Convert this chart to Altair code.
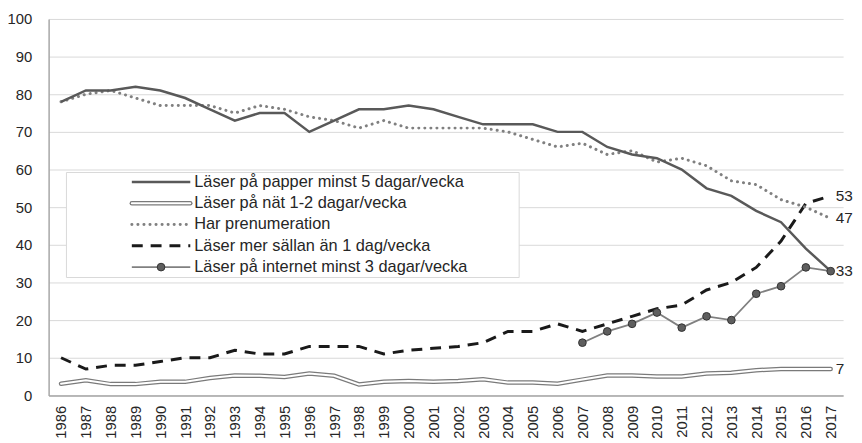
import altair as alt
import pandas as pd

years = list(range(1986, 2018))

papper = [78, 81, 81, 82, 81, 79, 76, 73, 75, 75, 70, 73, 76, 76, 77, 76,
          74, 72, 72, 72, 70, 70, 66, 64, 63, 60, 55, 53, 49, 46, 39, 33]
nat = [3.1, 4.0, 3.0, 3.0, 3.6, 3.6, 4.6, 5.3, 5.2, 4.9, 5.8, 5.2, 2.9, 3.6, 3.8, 3.6,
       3.8, 4.3, 3.4, 3.4, 3.1, 4.2, 5.3, 5.3, 5.0, 5.0, 5.8, 6.0, 6.7, 7.0, 7.0, 7.0]
prenumeration = [78, 80, 81, 79, 77, 77, 77, 75, 77, 76, 74, 73, 71, 73, 71, 71,
                 71, 71, 70, 68, 66, 67, 64, 65, 62, 63, 61, 57, 56, 52, 50, 47]
sallan = [10, 7, 8, 8, 9, 10, 10, 12, 11, 11, 13, 13, 13, 11, 12, 12.5,
          13, 14, 17, 17, 19, 17, 19, 21, 23, 24, 28, 30, 34, 41, 51, 53]
internet_years = list(range(2007, 2018))
internet = [14, 17, 19, 22, 18, 21, 20, 27, 29, 34, 33]

series_names = [
    "Läser på papper minst 5 dagar/vecka",
    "Läser på nät 1-2 dagar/vecka",
    "Har prenumeration",
    "Läser mer sällan än 1 dag/vecka",
    "Läser på internet minst 3 dagar/vecka",
]
end_labels = ["33", "7", "47", "53"]

FONT = "Liberation Sans"
FS_AXIS = 15
FS_LEG = 16.5
FS_END = 15.5

def frame(xs, vals):
    return pd.DataFrame({"year": [str(x) for x in xs], "value": vals})

df_pap = frame(years, papper)
df_nat = frame(years, nat)
df_pre = frame(years, prenumeration)
df_sal = frame(years, sallan)
df_int = frame(internet_years, internet)

year_order = [str(y) for y in years]

x_enc = alt.X("year:O", sort=year_order, scale=alt.Scale(domain=year_order),
              axis=alt.Axis(title=None, labelAngle=-90, labelPadding=10, tickSize=0, ticks=False,
                            domainColor="#a6a6a6", domainWidth=1.5, labelFont=FONT,
                            labelFontSize=FS_AXIS, labelColor="#262626", grid=False,
                            labelOverlap=False))
y_enc = alt.Y("value:Q", scale=alt.Scale(domain=[0, 100], nice=False),
              axis=alt.Axis(title=None, values=list(range(0, 101, 10)), grid=True,
                            gridColor="#d9d9d9", gridWidth=1, ticks=False, tickSize=0,
                            labelPadding=17, domainColor="#a6a6a6", domainWidth=1.5,
                            labelFont=FONT, labelFontSize=FS_AXIS, labelColor="#262626",
                            labelOverlap=False))

def line(df, **kw):
    return alt.Chart(df).mark_line(**kw).encode(x=x_enc, y=y_enc)

nat_outer = line(df_nat, color="#7a7a7a", strokeWidth=4.5, strokeCap="round")
nat_inner = line(df_nat, color="#ffffff", strokeWidth=2, strokeCap="round")
sal_line = line(df_sal, color="#1a1a1a", strokeWidth=3, strokeDash=[11, 8])
pre_line = line(df_pre, color="#808080", strokeWidth=3, strokeDash=[0.1, 6], strokeCap="round")
pap_line = line(df_pap, color="#595959", strokeWidth=2.5)
int_line = line(df_int, color="#808080", strokeWidth=1.8)
int_pts = alt.Chart(df_int).mark_circle(size=60, color="#5e5e5e", stroke="#333333",
                                         strokeWidth=1, opacity=1).encode(x=x_enc, y=y_enc)

# End labels
lab_vals = [papper[-1], nat[-1], prenumeration[-1], sallan[-1]]
df_lab = pd.DataFrame({"year": [str(years[-1])] * 4, "value": lab_vals, "label": end_labels})
labels = alt.Chart(df_lab).mark_text(align="left", baseline="middle", dx=5, font=FONT,
                                     fontSize=FS_END, color="#262626").encode(
    x=x_enc, y=y_enc, text="label:N")

# Legend (pixel positions in plot coordinates)
box_x1, box_x2, box_y1, box_y2 = 18, 475, 155, 261
sym_x1, sym_x2, txt_x = 84, 143, 147
row0, row_step = 164.5, 21.5
rows = [row0 + i * row_step for i in range(len(series_names))]

one = pd.DataFrame({"a": [0]})

leg_box = alt.Chart(one).mark_rect(
    fill="white", stroke="#d9d9d9", strokeWidth=1).encode(
    x=alt.value(box_x1), x2=alt.value(box_x2), y=alt.value(box_y1), y2=alt.value(box_y2))

def rule(yv, **kw):
    return alt.Chart(one).mark_rule(**kw).encode(
        x=alt.value(sym_x1), x2=alt.value(sym_x2), y=alt.value(yv))

leg_items = [
    rule(rows[0], color="#595959", strokeWidth=2.5),
    rule(rows[1], color="#7a7a7a", strokeWidth=4.5, strokeCap="round"),
    rule(rows[1], color="#ffffff", strokeWidth=2, strokeCap="round"),
    rule(rows[2], color="#808080", strokeWidth=3, strokeDash=[0.1, 6], strokeCap="round"),
    rule(rows[3], color="#1a1a1a", strokeWidth=3, strokeDash=[11, 8]),
    rule(rows[4], color="#808080", strokeWidth=1.8),
    alt.Chart(one).mark_circle(size=60, color="#5e5e5e", stroke="#333333", strokeWidth=1, opacity=1).encode(
        x=alt.value((sym_x1 + sym_x2) / 2), y=alt.value(rows[4])),
]

df_leg = pd.DataFrame({"name": series_names, "py": rows})
leg_text = alt.Chart(df_leg).mark_text(align="left", baseline="middle", font=FONT, fontSize=FS_LEG,
                                        color="#262626").encode(
    x=alt.value(txt_x), y=alt.Y("py:Q", scale=None), text="name:N")

chart = alt.layer(
    nat_outer, nat_inner, sal_line, pre_line, pap_line, int_line, int_pts, labels,
    leg_box, *leg_items, leg_text
).properties(
    width=802, height=380,
    autosize=alt.AutoSizeParams(type="none"),
    padding={"left": 41, "top": 9, "right": 11, "bottom": 45},
    background="white",
).configure_view(stroke=None)

chart.save("out.html", embed_options={"renderer": "svg", "actions": False})
